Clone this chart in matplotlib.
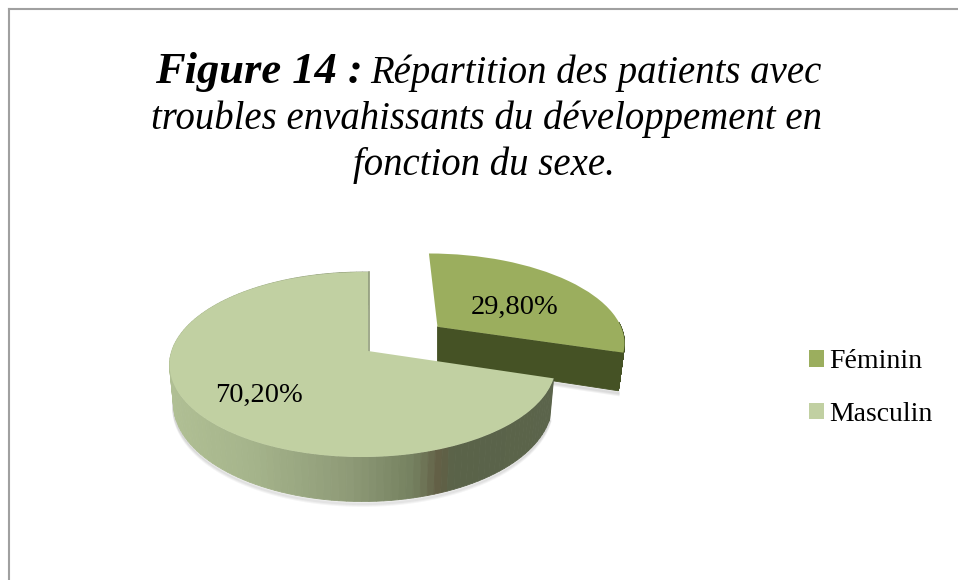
import numpy as np
import matplotlib
matplotlib.use("Agg")
import matplotlib.pyplot as plt
from matplotlib.colors import LinearSegmentedColormap
from matplotlib.transforms import Transform

labels = ["Féminin", "Masculin"]
values = [29.80, 70.20]
value_labels = ["29,80%", "70,20%"]
title_start = "Figure 14 :"
title_lines = ["Répartition des patients avec",
               "troubles envahissants du développement en",
               "fonction du sexe."]

# perspective of the pie, in pixels
CX, CY = 368, 351
A, B, K = 191, 90.5, 0.146
WALL = 38

plt.rcParams["font.family"] = ["Liberation Serif", "DejaVu Serif"]


class Perspective(Transform):
    input_dims = 2
    output_dims = 2

    def __init__(self, tilt=0.0):
        super().__init__()
        self.tilt = tilt

    def transform_non_affine(self, values):
        x, y = np.asarray(values).T
        w = 1 + K * y + self.tilt * x
        return np.column_stack([CX + A * x / w, CY - B * y / w])


persp_fem = Perspective()
persp_masc = Perspective(0.027)
wall_cmap = LinearSegmentedColormap.from_list(
    "wall", [(0, "#b0bf94"), (0.2, "#a5b48b"), (0.45, "#8e9a77"),
             (0.62, "#74805f"), (0.685, "#625f45"), (0.72, "#5a6349"), (1, "#5b644b")])

fig = plt.figure(figsize=(9.58, 5.8), dpi=100)
ax = fig.add_axes([0, 0, 1, 1])
wedges, _ = ax.pie(values, explode=[0.47, 0], startangle=90, counterclock=False,
                   colors=["#9bae5e", "#c1d0a2"], radius=1, frame=True)
ax.set_aspect("auto")
ax.set_xlim(0, 958)
ax.set_ylim(580, 0)
ax.axis("off")


def rim(wedge, persp, top_angle, n=130):
    t = np.radians(np.linspace(wedge.theta1, min(wedge.theta2, top_angle), n))
    cx, cy = wedge.center
    return persp.transform(np.column_stack([cx + np.cos(t), cy + np.sin(t)])), \
        WALL / (1 + K * (cy + np.sin(t)))


def draw_wall(wedge, persp, color=None, zorder=2, top_angle=360):
    pts, h = rim(wedge, persp, top_angle)
    # the bottom edge sits a bit further away, so it is narrower
    low = CX + (pts[:, 0] - CX) * 0.98
    for i in range(len(pts) - 1):
        xs = [pts[i, 0], pts[i + 1, 0], low[i + 1], low[i]]
        ys = [pts[i, 1], pts[i + 1, 1], pts[i + 1, 1] + h[i + 1], pts[i, 1] + h[i]]
        c = color if color else wall_cmap((pts[i, 0] - 170) / (560 - 170))
        ax.fill(xs, ys, color=c, lw=0.6, zorder=zorder)
    return pts, h, low


# Féminin: dark side and cut face, behind the big slice
fem, masc = wedges
fem_pts, fem_h, fem_low = draw_wall(fem, persp_fem, "#455225", zorder=1.5, top_angle=3)
cx, cy = fem.center
apex = persp_fem.transform([[cx, cy]])[0]
apex_h = WALL / (1 + K * cy)
ax.fill([apex[0], fem_pts[0, 0], fem_low[0], apex[0]],
        [apex[1], fem_pts[0, 1], fem_pts[0, 1] + fem_h[0], apex[1] + apex_h],
        color="#455225", lw=0.6, zorder=1.5)
for off in range(1, 5):
    ax.plot([apex[0], fem_low[0]],
            [apex[1] + apex_h + off, fem_pts[0, 1] + fem_h[0] + off],
            color="black", alpha=0.05, lw=2, zorder=1.2)
fem.set_transform(persp_fem + ax.transData)
fem.set_zorder(1.8)

# Masculin: shaded side and top
masc_pts, masc_h, masc_low = draw_wall(masc, persp_masc, zorder=2)
for off in range(1, 5):
    ax.plot(masc_low, masc_pts[:, 1] + masc_h + off,
            color="black", alpha=0.04, lw=2, zorder=1.9)
masc.set_transform(persp_masc + ax.transData)
masc.set_zorder(2.5)
ax.plot([CX + 1, CX + 1], [CY - 79, CY], color="#8e9a77", lw=1.2, zorder=2.2)

ax.text(515, 307, value_labels[0], ha="center", va="center", fontsize=20.5, color="black", zorder=5)
ax.text(259, 395, value_labels[1], ha="center", va="center", fontsize=20.5, color="black", zorder=5)

# title
ax.text(155, 83, title_start, ha="left", va="baseline", fontsize=32,
        fontweight="bold", fontstyle="italic")
ax.text(370, 83, title_lines[0], ha="left", va="baseline", fontsize=27.9, fontstyle="italic")
ax.text(487, 129, title_lines[1], ha="center", va="baseline", fontsize=27.9, fontstyle="italic")
ax.text(484, 175, title_lines[2], ha="center", va="baseline", fontsize=27.9, fontstyle="italic")

ax.legend(handles=wedges, labels=labels, loc="center left", bbox_to_anchor=(809 / 958, 1 - 388 / 580),
          frameon=False, fontsize=20, handlelength=0.54, handleheight=0.54,
          handletextpad=0.2, labelspacing=1.0, borderpad=0, borderaxespad=0)

# chart area border
ax.plot([9, 9], [580, 9], color="#a0a0a0", lw=1.5, zorder=6)
ax.plot([9, 958], [9, 9], color="#a0a0a0", lw=1.5, zorder=6)

fig.savefig("out.png", dpi=100)
